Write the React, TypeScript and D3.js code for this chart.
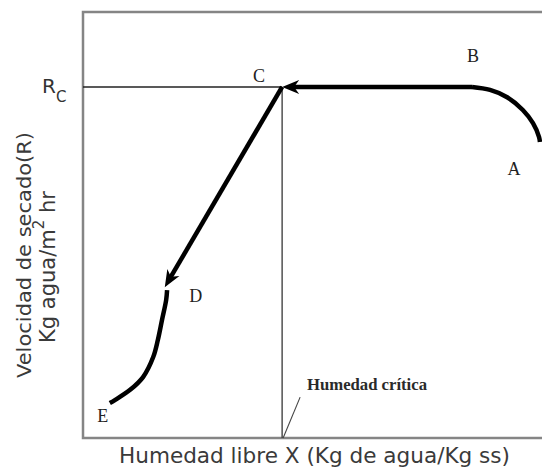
import React from 'react';
import * as d3 from 'd3';

const W = 542;
const H = 474;

// Normalised data units: X = free moisture (0..1), R = drying rate (0..1)
const Rc = 0.824;
const Xc = 0.431;
const pointB: [number, number] = [0.842, Rc];
const pointC: [number, number] = [Xc, Rc];
const pointD: [number, number] = [0.177, 0.354];
const curveAB: [number, number][] = [
  [0.989, 0.695], [0.987, 0.707], [0.974, 0.739], [0.952, 0.770],
  [0.918, 0.800], [0.881, 0.817], [0.842, 0.824],
];
const curveDE: [number, number][] = [
  [0.182, 0.347], [0.180, 0.324], [0.171, 0.277], [0.162, 0.230],
  [0.152, 0.190], [0.130, 0.143], [0.102, 0.113], [0.069, 0.089], [0.058, 0.082],
];
const pointLabels = ['A', 'B', 'C', 'D', 'E'];
const labelX = [0.933, 0.844, 0.381, 0.244, 0.043];
const labelY = [0.618, 0.883, 0.836, 0.319, 0.038];
const criticalLabel = 'Humedad crítica';
const criticalLeaderTop: [number, number] = [0.470, 0.096];
const xTitle = 'Humedad libre X (Kg de agua/Kg ss)';
const yTitle1 = 'Velocidad de secado(R)';
const yTitle2a = 'Kg agua/m';
const yTitle2sup = '2';
const yTitle2b = ' hr';

export default function App() {
  const x = d3.scaleLinear().domain([0, 1]).range([83, 545]);
  const y = d3.scaleLinear().domain([0, 1]).range([438, 12]);

  const line = d3
    .line<[number, number]>()
    .x((d) => x(d[0]))
    .y((d) => y(d[1]))
    .curve(d3.curveCatmullRom.alpha(0.5));

  const arrow = (from: [number, number], to: [number, number]) => {
    const x1 = x(from[0]), y1 = y(from[1]);
    const x2 = x(to[0]), y2 = y(to[1]);
    const dx = x2 - x1, dy = y2 - y1;
    const len = Math.hypot(dx, dy);
    const ux = dx / len, uy = dy / len;
    const nx = -uy, ny = ux;
    const L = 17, w = 7, notch = 5;
    const bx = x2 - L * ux, by = y2 - L * uy;
    const poly = [
      [x2, y2],
      [bx + w * nx, by + w * ny],
      [x2 - (L - notch) * ux, y2 - (L - notch) * uy],
      [bx - w * nx, by - w * ny],
    ];
    const lx2 = x2 - (L - notch - 1) * ux;
    const ly2 = y2 - (L - notch - 1) * uy;
    return (
      <g>
        <line x1={x1} y1={y1} x2={lx2} y2={ly2} stroke="#000" strokeWidth={4.5} />
        <polygon points={poly.map((p) => p.join(',')).join(' ')} fill="#000" />
      </g>
    );
  };

  return (
    <svg width={W} height={H} style={{ display: 'block', position: 'absolute', left: 0, top: 0 }}>
      <rect x={0} y={0} width={W} height={H} fill="#fff" />
      {/* frame */}
      <rect x={x(0)} y={y(1)} width={x(1) - x(0) + 10} height={y(0) - y(1)} fill="none" stroke="#858585" strokeWidth={2.5} />
      {/* Rc reference line */}
      <line x1={x(0)} y1={y(Rc)} x2={x(Xc)} y2={y(Rc)} stroke="#222" strokeWidth={1.4} />
      {/* critical moisture vertical */}
      <line x1={x(Xc)} y1={y(Rc)} x2={x(Xc)} y2={y(0)} stroke="#444" strokeWidth={1.4} />
      {/* leader */}
      <line x1={x(criticalLeaderTop[0])} y1={y(criticalLeaderTop[1])} x2={x(Xc) + 1} y2={y(0)} stroke="#444" strokeWidth={1.1} />
      {/* curves */}
      <path d={line(curveAB) || ''} fill="none" stroke="#000" strokeWidth={4.5} strokeLinecap="butt" />
      <path d={line(curveDE) || ''} fill="none" stroke="#000" strokeWidth={4.5} strokeLinecap="butt" />
      {arrow(pointB, pointC)}
      {arrow(pointC, pointD)}
      {/* point labels */}
      {pointLabels.map((t, i) => (
        <text key={t} x={x(labelX[i])} y={y(labelY[i])} textAnchor="middle" fontFamily="'Liberation Serif', serif" fontSize={18} fill="#222">
          {t}
        </text>
      ))}
      <text x={307} y={390} fontFamily="'Liberation Serif', serif" fontSize={17} fontWeight="bold" fill="#2a2a2a" textLength={120} lengthAdjust="spacingAndGlyphs">
        {criticalLabel}
      </text>
      {/* Rc label */}
      <text x={42} y={y(Rc) + 6} fontFamily="'DejaVu Sans', sans-serif" fontSize={20} fill="#333">
        R
      </text>
      <text x={56} y={y(Rc) + 15} fontFamily="'DejaVu Sans', sans-serif" fontSize={15} fill="#333">
        C
      </text>
      {/* axis titles */}
      <text x={119} y={463} fontFamily="'DejaVu Sans', sans-serif" fontSize={21} fill="#3a3a3a" textLength={391} lengthAdjust="spacingAndGlyphs">
        {xTitle}
      </text>
      <text transform="translate(31,378) rotate(-90)" fontFamily="'DejaVu Sans', sans-serif" fontSize={20} fill="#3a3a3a" textLength={246} lengthAdjust="spacingAndGlyphs">
        {yTitle1}
      </text>
      <text transform="translate(55,343) rotate(-90)" fontFamily="'DejaVu Sans', sans-serif" fontSize={21} fill="#3a3a3a">
        {yTitle2a}
        <tspan fontSize={15} dy={-11}>{yTitle2sup}</tspan>
        <tspan dy={11}>{yTitle2b}</tspan>
      </text>
    </svg>
  );
}
